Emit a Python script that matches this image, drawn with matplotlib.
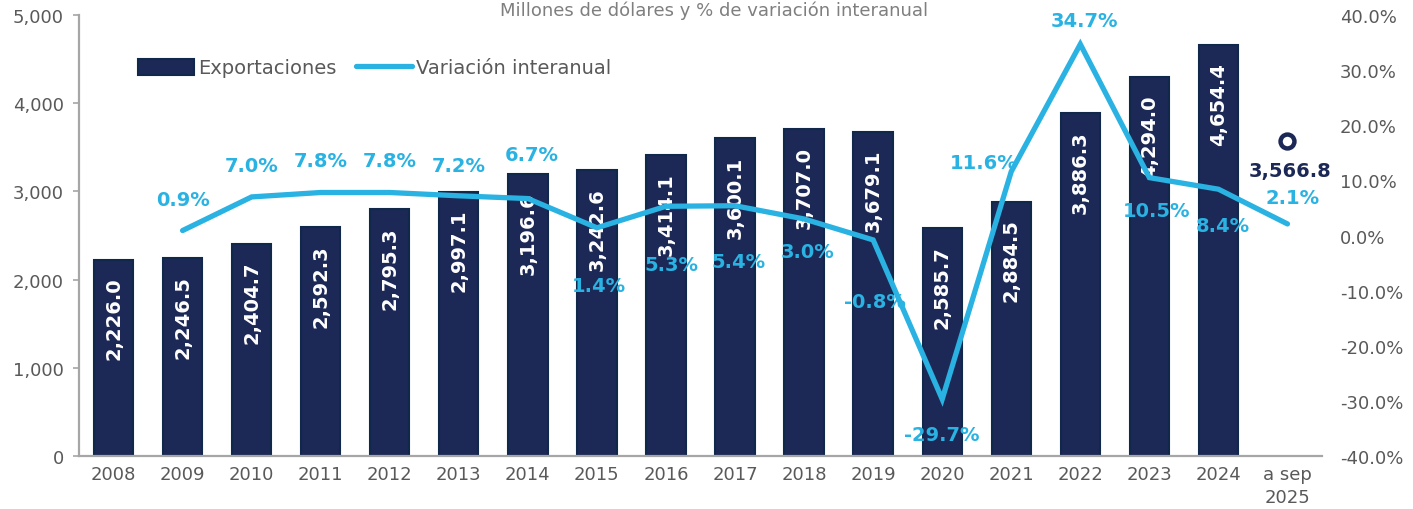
import matplotlib.pyplot as plt
from matplotlib.ticker import FuncFormatter, MultipleLocator

# Exportaciones anuales (millones de dólares) y variación interanual (%)
years = ['2008', '2009', '2010', '2011', '2012', '2013', '2014', '2015', '2016',
         '2017', '2018', '2019', '2020', '2021', '2022', '2023', '2024', 'a sep\n2025']
exports = [2226.0, 2246.5, 2404.7, 2592.3, 2795.3, 2997.1, 3196.6, 3242.6, 3414.1,
           3600.1, 3707.0, 3679.1, 2585.7, 2884.5, 3886.3, 4294.0, 4654.4]
exports_sep_2025 = 3566.8
variation = [0.9, 7.0, 7.8, 7.8, 7.2, 6.7, 1.4, 5.3, 5.4, 3.0, -0.8, -29.7,
             11.6, 34.7, 10.5, 8.4, 2.1]  # 2009 .. sep 2025

# label placement around each line point (pixels: dx, dy)
pct_offsets = [(0, 31), (0, 31), (0, 32), (0, 32), (0, 30), (4, 44), (2, -58),
               (5, -58), (3, -56), (3, -33), (2, -62), (0, -35), (-28, 9),
               (4, 24), (7, -33), (4, -36), (5, 26)]

NAVY = '#1c2856'
NAVY_EDGE = '#10284a'
BLUE = '#29b2e2'
GRAY = '#595959'
PX = 0.72  # points per pixel at dpi 100

plt.rcParams['font.family'] = ['DejaVu Sans']

fig = plt.figure(figsize=(14.13, 5.10), dpi=100)
ax = fig.add_axes([79 / 1413, 1 - 457 / 510, (1322 - 79) / 1413, (457 - 16) / 510])

x_bars = list(range(len(exports)))
bars = ax.bar(x_bars, exports, width=0.57, color=NAVY, edgecolor=NAVY_EDGE,
              linewidth=1.5, label='Exportaciones', zorder=2)
for xb, v in zip(x_bars, exports):
    ax.annotate(f'{v:,.1f}', (xb, v), xytext=(0, -17 * PX), textcoords='offset points',
                rotation=90, ha='center', va='top', color='white',
                fontsize=14, fontweight='bold', zorder=3)

# partial-year marker
x_last = len(years) - 1
ax.plot([x_last], [exports_sep_2025], marker='o', ms=10, mfc='white', mec=NAVY,
        mew=3.2, ls='none', zorder=4)
ax.annotate(f'{exports_sep_2025:,.1f}', (x_last, exports_sep_2025), xytext=(3 * PX, -29 * PX),
            textcoords='offset points', ha='center', va='center', color=NAVY,
            fontsize=14, fontweight='bold')

ax.set_xlim(-0.5, len(years) - 0.5)
ax.set_ylim(0, 5000)
ax.set_xticks(range(len(years)))
ax.set_xticklabels(years, linespacing=1.35)
ax.yaxis.set_major_locator(MultipleLocator(1000))
ax.yaxis.set_major_formatter(FuncFormatter(lambda v, p: f'{v:,.0f}'))
ax.tick_params(axis='x', length=0, pad=6.5, labelsize=13, labelcolor=GRAY)
ax.tick_params(axis='y', length=4, width=1.2, color='#a6a6a6', pad=7,
               labelsize=13, labelcolor=GRAY)
for s in ['top', 'right']:
    ax.spines[s].set_visible(False)
for s in ['left', 'bottom']:
    ax.spines[s].set_color('#a6a6a6')
    ax.spines[s].set_linewidth(1.6)

ax2 = ax.twinx()
x_line = list(range(1, len(years)))
line, = ax2.plot(x_line, variation, color=BLUE, lw=3.8, solid_capstyle='round',
                 solid_joinstyle='miter', label='Variación interanual', zorder=5)
for xl, v, (dx, dy) in zip(x_line, variation, pct_offsets):
    ax2.annotate(f'{v:.1f}%', (xl, v), xytext=(dx * PX, dy * PX), textcoords='offset points',
                 ha='center', va='center', color=BLUE, fontsize=14, fontweight='bold')
ax2.set_ylim(-40, 40)
ax2.yaxis.set_major_locator(MultipleLocator(10))
ax2.yaxis.set_major_formatter(FuncFormatter(lambda v, p: f'{v:.1f}%'))
ax2.tick_params(axis='y', length=0, pad=13, labelsize=13, labelcolor=GRAY)
for s in ax2.spines.values():
    s.set_visible(False)

fig.legend([bars, line], ['Exportaciones', 'Variación interanual'], ncol=2,
           loc='center left', bbox_to_anchor=(138 / 1413, 1 - 69 / 510), frameon=False,
           fontsize=14, labelcolor=GRAY, handlelength=2.9, handleheight=0.85,
           handletextpad=0.2, columnspacing=1.0, borderpad=0, borderaxespad=0)

fig.text(714 / 1413, 1 - 1 / 510, 'Millones de dólares y % de variación interanual',
         ha='center', va='top', fontsize=13, color='#7f7f7f')

fig.savefig('out.png', dpi=100)
